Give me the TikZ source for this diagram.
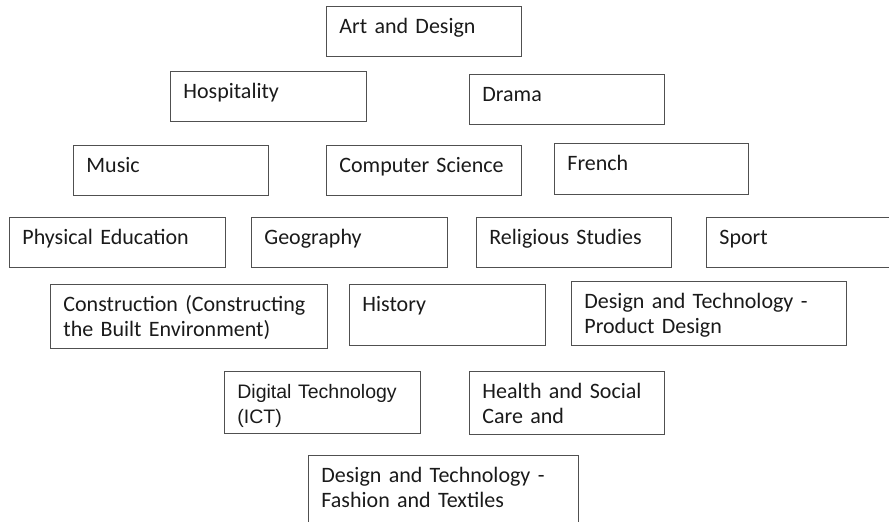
\documentclass[tikz,border=0pt]{standalone}
\usepackage{fontspec}
\setmainfont{Carlito}
\newfontfamily\arialfont{Liberation Sans}
\definecolor{boxline}{HTML}{505050}
\definecolor{boxtext}{HTML}{1A1A1A}
\begin{document}
\begin{tikzpicture}[x=1pt,y=-1pt,
	subj/.style 2 args={draw=boxline, line width=0.8pt, text=boxtext, anchor=north west, align=left,
		inner xsep=13pt, inner ysep=0pt, text width=#1pt, text height=27pt, text depth=#2pt,
		font=\fontsize{22}{25}\selectfont}]
		\useasboundingbox (0,0) rectangle (889,522);
		\clip (0,0) rectangle (889,522);
		\node[subj={169}{23}] (art) at (326,6) {Art and Design};
		\node[subj={170}{23}] (hosp) at (170,71) {Hospitality};
		\node[subj={169}{23}] (drama) at (469,74) {Drama};
		\node[subj={169}{23}] (music) at (73,145) {Music};
		\node[subj={169}{23}] (compsci) at (326,145) {Computer Science};
		\node[subj={168}{24}] (french) at (554,143) {French};
		\node[subj={190}{23}] (pe) at (9,217) {Physical Education};
		\node[subj={170}{23}] (geog) at (251,217) {Geography};
		\node[subj={169}{23}] (rs) at (476,217) {Religious Studies};
		\node[subj={230}{23}] (sport) at (706,217) {Sport};
		\node[subj={251}{37}] (constr) at (50,284) {Construction (Constructing\\the Built Environment)};
		\node[subj={170}{34}] (hist) at (349,284) {History};
		\node[subj={249}{37}] (dtpd) at (571,281) {Design and Technology -\\Product Design};
		\node[subj={170}{35}, font=\arialfont\fontsize{19.5}{25}\selectfont] (ict) at (224,371) {Digital Technology\\(ICT)};
		\node[subj={169}{36}] (hsc) at (469,371) {Health and Social\\Care and};
		\node[subj={244}{53}] (dtft) at (308,455) {Design and Technology -\\Fashion and Textiles};
	\end{tikzpicture}
\end{document}
